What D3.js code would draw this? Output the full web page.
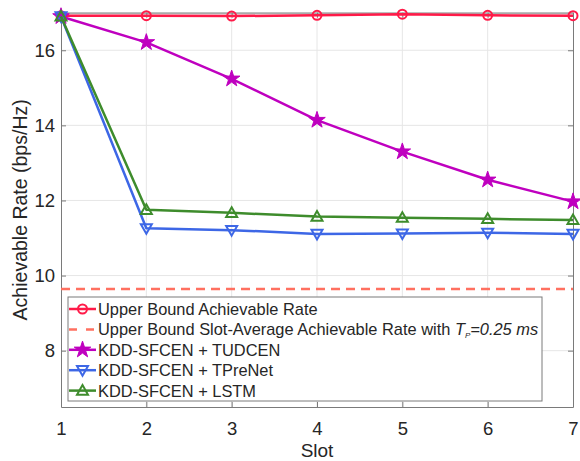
<!DOCTYPE html>
<html>
<head>
<meta charset="utf-8">
<script src="https://cdn.jsdelivr.net/npm/d3@7"></script>
<style>
  body { margin: 0; background: #fff; }
  text { font-family: "Liberation Sans", Arial, sans-serif; fill: #262626; }
</style>
</head>
<body>
<script>
"use strict";

// data
var slots = [1, 2, 3, 4, 5, 6, 7];
var upperBound = [16.92, 16.92, 16.91, 16.93, 16.96, 16.93, 16.92];
var slotAverageBound = 9.64;
var tudcen = [16.9, 16.21, 15.24, 14.14, 13.30, 12.55, 11.97];
var tprenet = [16.9, 11.26, 11.21, 11.11, 11.12, 11.14, 11.11];
var lstm = [16.9, 11.75, 11.67, 11.57, 11.54, 11.51, 11.48];
var yTicks = [8, 10, 12, 14, 16];

var width = 580, height = 461;
var margin = {top: 12.7, right: 7, bottom: 54, left: 61};

var svg = d3.select("body").append("svg")
    .attr("width", width)
    .attr("height", height);

var x = d3.scaleLinear().domain([1, 7]).range([margin.left, width - margin.right]);
var y = d3.scaleLinear().domain([6.5, 17]).range([height - margin.bottom, margin.top]);

var x0 = x.range()[0], x1 = x.range()[1];
var y0 = y.range()[0], y1 = y.range()[1];

// grid
var grid = svg.append("g");
grid.selectAll(".gx").data(slots.slice(1, -1)).enter().append("line")
    .attr("x1", d => x(d)).attr("x2", d => x(d))
    .attr("y1", y0).attr("y2", y1)
    .attr("stroke", "#e6e6e6").attr("stroke-width", 1);
grid.selectAll(".gy").data(yTicks).enter().append("line")
    .attr("x1", x0).attr("x2", x1)
    .attr("y1", d => y(d)).attr("y2", d => y(d))
    .attr("stroke", "#e6e6e6").attr("stroke-width", 1);

// axes (matlab style: inward ticks, box)
var axisColor = "#7a7a7a";
var fmt = d3.format("d");
var axBottom = svg.append("g").attr("transform", "translate(0," + y0 + ")")
    .call(d3.axisBottom(x).tickValues(slots).tickFormat(fmt).tickSizeInner(-5).tickSizeOuter(0).tickPadding(15));
var axLeft = svg.append("g").attr("transform", "translate(" + x0 + ",0)")
    .call(d3.axisLeft(y).tickValues(yTicks).tickFormat(fmt).tickSizeInner(-5).tickSizeOuter(0).tickPadding(6));
var axTop = svg.append("g").attr("transform", "translate(0," + y1 + ")")
    .call(d3.axisTop(x).tickValues(slots).tickSizeInner(-5).tickSizeOuter(0).tickFormat(""));
var axRight = svg.append("g").attr("transform", "translate(" + x1 + ",0)")
    .call(d3.axisRight(y).tickValues(yTicks).tickSizeInner(-5).tickSizeOuter(0).tickFormat(""));
[axBottom, axLeft, axTop, axRight].forEach(function(g) {
    g.selectAll("path, line").attr("stroke", axisColor);
    g.selectAll("text").attr("font-size", 18.5).attr("fill", "#262626")
        .attr("font-family", "'Liberation Sans', Arial, sans-serif");
});
axTop.select(".domain").attr("stroke", "#aaaaaa").attr("stroke-width", 2);

svg.append("text")
    .attr("x", x(4)).attr("y", 457)
    .attr("text-anchor", "middle")
    .attr("font-size", 19)
    .text("Slot");
svg.append("text")
    .attr("transform", "translate(27," + ((y0 + y1) / 2) + ") rotate(-90)")
    .attr("text-anchor", "middle")
    .attr("font-size", 19.5)
    .text("Achievable Rate (bps/Hz)");

// series
var series = [
    {name: "Upper Bound Achievable Rate", values: upperBound, color: "#ff1a48", marker: "circle"},
    {name: "TUDCEN", values: tudcen, color: "#bf00bf", marker: "star"},
    {name: "TPreNet", values: tprenet, color: "#3d67e6", marker: "down"},
    {name: "LSTM", values: lstm, color: "#3e8c2c", marker: "up"}
];

var dashColor = "#ff7060";

function drawMarker(g, type, color, cx, cy) {
    if (type === "circle") {
        g.append("circle").attr("cx", cx).attr("cy", cy).attr("r", 4.5)
            .attr("fill", "none").attr("stroke", color).attr("stroke-width", 2);
    } else if (type === "star") {
        g.append("path")
            .attr("d", d3.symbol().type(d3.symbolStar).size(85)())
            .attr("transform", "translate(" + cx + "," + cy + ")")
            .attr("fill", color).attr("stroke", color).attr("stroke-width", 1);
    } else {
        var s = 5.5;
        var pts = type === "up"
            ? [[0, -s], [s, s * 0.75], [-s, s * 0.75]]
            : [[0, s], [s, -s * 0.75], [-s, -s * 0.75]];
        g.append("path")
            .attr("d", "M" + pts.map(p => (cx + p[0]) + "," + (cy + p[1])).join("L") + "Z")
            .attr("fill", "none").attr("stroke", color).attr("stroke-width", 2);
    }
}

var line = d3.line().x((d, i) => x(slots[i])).y(d => y(d));

// first red line, then dashed bound, then the rest (drawing order as in reference)
function drawSeries(s) {
    var g = svg.append("g");
    g.append("path").datum(s.values).attr("d", line)
        .attr("fill", "none").attr("stroke", s.color).attr("stroke-width", 2.5)
        .attr("stroke-linejoin", "round");
    s.values.forEach(function(v, i) { drawMarker(g, s.marker, s.color, x(slots[i]), y(v)); });
}

drawSeries(series[0]);
svg.append("line")
    .attr("x1", x0).attr("x2", x1)
    .attr("y1", y(slotAverageBound)).attr("y2", y(slotAverageBound))
    .attr("stroke", dashColor).attr("stroke-width", 2.5)
    .attr("stroke-dasharray", "9,6");
series.slice(1).forEach(drawSeries);

// legend
var lg = svg.append("g");
var lgBox = {x: 68, y: 297, w: 474, h: 104};
lg.append("rect").attr("x", lgBox.x).attr("y", lgBox.y)
    .attr("width", lgBox.w).attr("height", lgBox.h)
    .attr("fill", "#fff").attr("stroke", "#7a7a7a").attr("stroke-width", 1);

var legendItems = [
    {label: "Upper Bound Achievable Rate", color: series[0].color, marker: "circle"},
    {label: "Upper Bound Slot-Average Achievable Rate with ", color: dashColor, marker: "dash"},
    {label: "KDD-SFCEN + TUDCEN", color: series[1].color, marker: "star"},
    {label: "KDD-SFCEN + TPreNet", color: series[2].color, marker: "down"},
    {label: "KDD-SFCEN + LSTM", color: series[3].color, marker: "up"}
];

legendItems.forEach(function(it, i) {
    var cy = 309 + i * 20.4;
    var g = lg.append("g");
    if (it.marker === "dash") {
        g.append("line").attr("x1", 69).attr("x2", 96).attr("y1", cy).attr("y2", cy)
            .attr("stroke", it.color).attr("stroke-width", 2.5).attr("stroke-dasharray", "8,9");
    } else {
        g.append("line").attr("x1", 69).attr("x2", 96).attr("y1", cy).attr("y2", cy)
            .attr("stroke", it.color).attr("stroke-width", 2.5);
        drawMarker(g, it.marker, it.color, 82.5, cy);
    }
    var t = g.append("text").attr("x", 98).attr("y", cy + 6).attr("font-size", 16.4)
        .attr("fill", "#000").text(it.label);
    if (it.marker === "dash") {
        t.append("tspan").attr("font-style", "italic").text("T");
        t.append("tspan").attr("font-style", "italic").attr("font-size", 8).attr("dy", 3).text("P");
        t.append("tspan").attr("font-style", "italic").attr("dy", -3).text("=0.25 ms");
    }
});
</script>
</body>
</html>
